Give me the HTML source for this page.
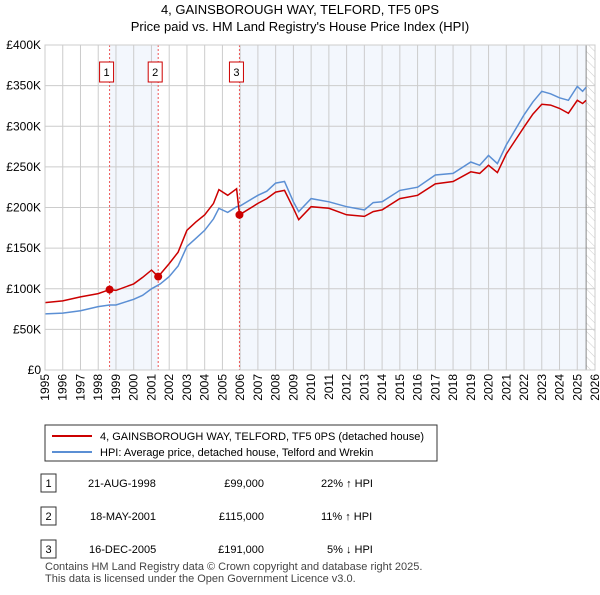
<!DOCTYPE html>
<html><head><meta charset="utf-8"><style>
body{margin:0;background:#fff;font-family:"Liberation Sans",sans-serif;}
svg text{font-family:"Liberation Sans",sans-serif;}
</style></head><body>
<svg id="c" width="600" height="590" xmlns="http://www.w3.org/2000/svg">
<text x="300" y="14" text-anchor="middle" font-size="13">4, GAINSBOROUGH WAY, TELFORD, TF5 0PS</text>
<text x="300" y="31" text-anchor="middle" font-size="13">Price paid vs. HM Land Registry's House Price Index (HPI)</text>
<g id="plot"></g>
<rect x="45" y="425" width="392" height="36" fill="#fff" stroke="#333"/>
<line x1="52" y1="436" x2="92" y2="436" stroke="#cc0000" stroke-width="2"/>
<text x="100" y="440" font-size="11">4, GAINSBOROUGH WAY, TELFORD, TF5 0PS (detached house)</text>
<line x1="52" y1="452" x2="92" y2="452" stroke="#5b8fd4" stroke-width="2"/>
<text x="100" y="456" font-size="11">HPI: Average price, detached house, Telford and Wrekin</text>
<g font-size="11">
<rect x="41" y="474" width="15" height="18" fill="#fff" stroke="#333"/><text x="48.5" y="487" text-anchor="middle">1</text>
<text x="88" y="487">21-AUG-1998</text><text x="264" y="487" text-anchor="end">£99,000</text><text x="321" y="487">22% ↑ HPI</text>
<rect x="41" y="507" width="15" height="18" fill="#fff" stroke="#333"/><text x="48.5" y="520" text-anchor="middle">2</text>
<text x="90" y="520">18-MAY-2001</text><text x="264" y="520" text-anchor="end">£115,000</text><text x="321" y="520">11% ↑ HPI</text>
<rect x="41" y="540" width="15" height="18" fill="#fff" stroke="#333"/><text x="48.5" y="553" text-anchor="middle">3</text>
<text x="89" y="553">16-DEC-2005</text><text x="264" y="553" text-anchor="end">£191,000</text><text x="327" y="553">5% ↓ HPI</text>
</g>
<text x="45" y="570" font-size="11" fill="#444">Contains HM Land Registry data © Crown copyright and database right 2025.</text>
<text x="45" y="582" font-size="11" fill="#444">This data is licensed under the Open Government Licence v3.0.</text>
</svg>
<script>
const hpiYears=[1995,1996,1997,1998,1998.64,1999,2000,2000.5,2001,2001.5,2002,2002.5,2003,2003.5,2004,2004.5,2004.8,2005.3,2005.8,2006,2007,2007.5,2008,2008.5,2009,2009.3,2010,2011,2012,2013,2013.5,2014,2015,2016,2017,2018,2019,2019.5,2020,2020.5,2021,2022,2022.5,2023,2023.5,2024,2024.5,2025,2025.3,2025.5];
const hpiValues=[69,70,73,78,80,80,87,92,100,106,115,128,152,162,172,186,199,194,201,202,215,220,230,232,207,195,211,207,201,197,206,207,221,225,240,242,256,252,264,254,277,314,330,343,340,335,332,349,343,348];
const redYears=[1995,1996,1997,1998,1998.64,1999,2000,2000.5,2001,2001.38,2002,2002.5,2003,2003.5,2004,2004.5,2004.8,2005.3,2005.8,2005.96,2007,2007.5,2008,2008.5,2009,2009.3,2010,2011,2012,2013,2013.5,2014,2015,2016,2017,2018,2019,2019.5,2020,2020.5,2021,2022,2022.5,2023,2023.5,2024,2024.5,2025,2025.3,2025.5];
const redValues=[83,85,90,94,99,98,106,114,123,115,131,145,172,182,191,205,222,215,223,191,205,211,219,221,199,185,201,199,191,189,195,197,211,215,229,232,244,242,252,243,266,299,315,327,326,322,316,332,328,332];
const saleYears=[1998.64,2001.38,2005.96];
const saleValues=[99,115,191];
const saleLabels=["1","2","3"];
const yTicks=[0,50,100,150,200,250,300,350,400];
const xTicks=[1995,1996,1997,1998,1999,2000,2001,2002,2003,2004,2005,2006,2007,2008,2009,2010,2011,2012,2013,2014,2015,2016,2017,2018,2019,2020,2021,2022,2023,2024,2025,2026];
const X0=45,X1=595,Y0=370,Y1=45;
const sx=y=>X0+(y-1995)/31*(X1-X0);
const sy=v=>Y0-v/400*(Y0-Y1);
const NS="http://www.w3.org/2000/svg";
const g=document.getElementById('plot');
function mk(t,a){const e=document.createElementNS(NS,t);for(const k in a)e.setAttribute(k,a[k]);g.appendChild(e);return e;}
let e;
e=mk('rect',{x:sx(saleYears[0]),y:Y1,width:sx(saleYears[1])-sx(saleYears[0]),height:Y0-Y1,fill:'#eef3fc',opacity:0.7});


e=mk('rect',{x:sx(saleYears[2]),y:Y1,width:sx(2025.5)-sx(saleYears[2]),height:Y0-Y1,fill:'#eef3fc',opacity:0.7});


const defs=mk('defs',{});
defs.innerHTML='<pattern id="h" width="6" height="6" patternUnits="userSpaceOnUse" patternTransform="rotate(-45)"><line x1="0" y1="0" x2="0" y2="6" stroke="#ccc" stroke-width="1"/></pattern>';
e=mk('rect',{x:sx(2025.5),y:Y1,width:X1-sx(2025.5),height:Y0-Y1,fill:'url(#h)'});


xTicks.forEach(t=>{
 e=mk('line',{x1:sx(t),x2:sx(t),y1:Y1,y2:Y0,stroke:'#ccc','stroke-width':1});
 
 
 e=mk('text',{x:0,y:0,'font-size':12,'text-anchor':'end',transform:`translate(${sx(t)+4},${Y0+4}) rotate(-90)`});
 e.textContent=t;
 
 
});
yTicks.forEach(t=>{
 e=mk('line',{x1:X0,x2:X1,y1:sy(t),y2:sy(t),stroke:'#ccc','stroke-width':1});
 
 
 e=mk('text',{x:X0-4,y:sy(t)+4,'font-size':12,'text-anchor':'end'});
 e.textContent=t===0?'£0':'£'+t+'K';
 
 
});
e=mk('line',{x1:sx(2025.5),x2:sx(2025.5),y1:Y1,y2:Y0,stroke:'#888','stroke-width':1});


saleYears.forEach((y,i)=>{
 e=mk('line',{x1:sx(y),x2:sx(y),y1:Y1,y2:Y0,stroke:'#e55','stroke-width':1,'stroke-dasharray':'2,2'});
 
 
 e=mk('rect',{x:sx(y)-10,y:62,width:14,height:20,fill:'#fff',stroke:'#cc0000'});
 
 
 e=mk('text',{x:sx(y)-3,y:76,'font-size':11,'text-anchor':'middle'});
 e.textContent=saleLabels[i];
 
 
});
const pts=(xs,vs)=>xs.map((y,i)=>sx(y).toFixed(1)+','+sy(vs[i]).toFixed(1)).join(' ');
e=mk('polyline',{points:pts(hpiYears,hpiValues),fill:'none',stroke:'#5b8fd4','stroke-width':1.5});


e=mk('polyline',{points:pts(redYears,redValues),fill:'none',stroke:'#cc0000','stroke-width':1.5});


saleYears.forEach((y,i)=>{
 e=mk('circle',{cx:sx(y),cy:sy(saleValues[i]),r:4,fill:'#cc0000'});
 
 
});
e=mk('rect',{x:X0,y:Y1,width:X1-X0,height:Y0-Y1,fill:'none',stroke:'#ccc'});


</script>
</body></html>
